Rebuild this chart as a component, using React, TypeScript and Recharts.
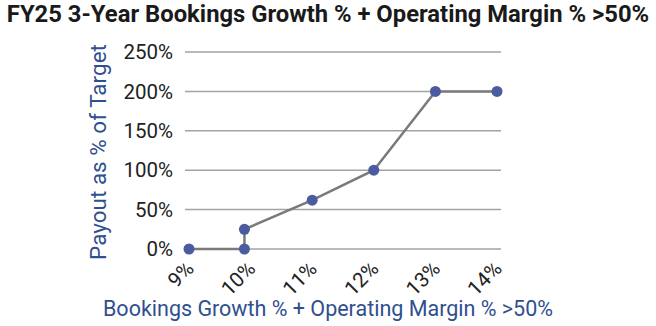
import { CartesianGrid, Line, LineChart, XAxis, YAxis } from "recharts";

// Payout curve: bookings growth % + op margin % (x) vs payout % of target (y)
const growth = [9, 9.9, 9.9, 11, 12, 13, 14];
const payout = [0, 0, 25, 62, 100, 200, 200];
const xTicks = [9, 10, 11, 12, 13, 14];
const yTicks = [0, 50, 100, 150, 200, 250];

const data = growth.map((g, i) => ({ g, p: payout[i] }));

const BLUE = "#2f4f8f";
const DOT = "#4b5ba0";
const FONT = "Roboto, 'Liberation Sans', sans-serif";

function XTick({ x, y, payload }: any) {
  return (
    <text
      x={x + 6}
      y={y + 13}
      transform={`rotate(-45 ${x + 6} ${y + 13})`}
      textAnchor="end"
      fontSize={20.5}
      fontFamily={FONT}
      fill="#222"
    >
      {payload.value}%
    </text>
  );
}

export default function App() {
  return (
    <div style={{ position: "relative", width: 656, height: 326, fontFamily: FONT }}>
      <style>{`body{margin:0}`}</style>
      <div
        style={{
          position: "absolute",
          top: 0,
          left: 0,
          width: 656,
          textAlign: "center",
          fontSize: 23.8,
          fontWeight: 700,
          color: "#1a1a1a",
          lineHeight: "28px",
          whiteSpace: "nowrap",
        }}
      >
        FY25 3-Year Bookings Growth % + Operating Margin % &gt;50%
      </div>
      <div
        style={{
          position: "absolute",
          left: 0,
          top: 295,
          width: 656,
          textAlign: "center",
          fontSize: 21.5,
          color: BLUE,
          lineHeight: "28px",
        }}
      >
        Bookings Growth % + Operating Margin % &gt;50%
      </div>
      <div
        style={{
          position: "absolute",
          left: 98,
          top: 152,
          transform: "translate(-50%, -50%) rotate(-90deg)",
          whiteSpace: "nowrap",
          fontSize: 22.5,
          color: BLUE,
        }}
      >
        Payout as % of Target
      </div>
      <LineChart
        width={656}
        height={326}
        data={data}
        margin={{ top: 52, right: 155, bottom: 0, left: 0 }}
        style={{ position: "absolute", top: 0, left: 0 }}
      >
        <CartesianGrid vertical={false} stroke="#a3a3a3" strokeWidth={1.5} />
        <XAxis
          dataKey="g"
          type="number"
          domain={[9, 14]}
          ticks={xTicks}
          padding={{ left: 4, right: 4 }}
          axisLine={false}
          tickLine={false}
          height={77}
          tick={<XTick />}
        />
        <YAxis
          domain={[0, 250]}
          ticks={yTicks}
          width={185}
          axisLine={false}
          tickLine={false}
          tickFormatter={(v) => `${v}%`}
          tick={{ fontSize: 20.5, fill: "#222", fontFamily: FONT }}
          tickMargin={6}
        />
        <Line
          dataKey="p"
          type="linear"
          stroke="#7a7a7a"
          strokeWidth={2.5}
          dot={{ r: 5.5, fill: DOT, stroke: DOT, strokeWidth: 0 }}
          isAnimationActive={false}
        />
      </LineChart>
    </div>
  );
}
